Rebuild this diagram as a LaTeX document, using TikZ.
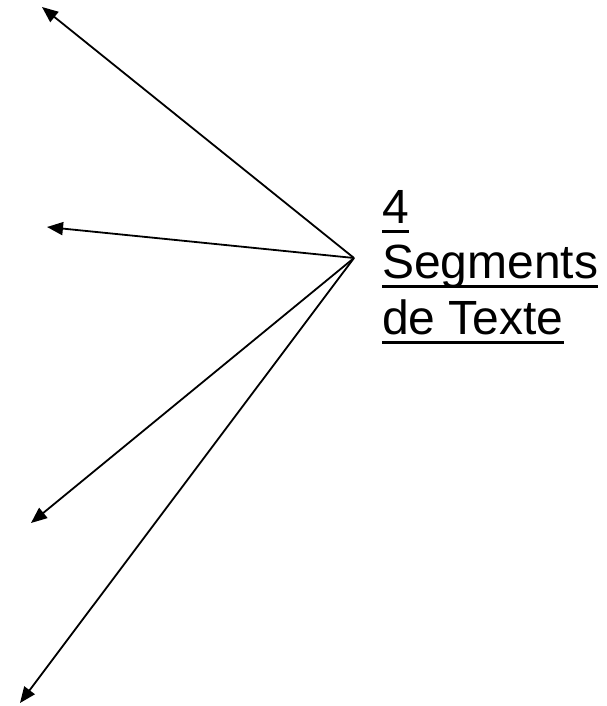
\documentclass[tikz,border=0pt]{standalone}
\usepackage{fontspec}
\setmainfont{Liberation Sans}
\usetikzlibrary{arrows.meta}
\newcommand\myul[1]{\setbox0\hbox{#1}\rlap{\rule[-10pt]{\wd0}{3pt}}\box0}
\begin{document}
\begin{tikzpicture}[x=1pt,y=-1pt,
  conn/.style={line width=1.8pt,-{Triangle[length=16pt,width=13pt]}},
  lbl/.style={anchor=base west,inner sep=0pt,font=\fontsize{48}{55}\selectfont}]
\useasboundingbox (0,0) rectangle (606,706);
\coordinate (hub) at (354,258);
\coordinate (e1) at (42,7);
\coordinate (e2) at (47,227);
\coordinate (e3) at (31,523);
\coordinate (e4) at (20,703);
\draw[conn] (hub) -- (e1);
\draw[conn] (hub) -- (e2);
\draw[conn] (hub) -- (e3);
\draw[conn] (hub) -- (e4);
\node[lbl] (t1) at (382,223) {\myul{4}};
\node[lbl] (t2) at (382,278) {\myul{Segments}};
\node[lbl] (t3) at (382,334) {\myul{de Texte}};
\end{tikzpicture}
\end{document}
